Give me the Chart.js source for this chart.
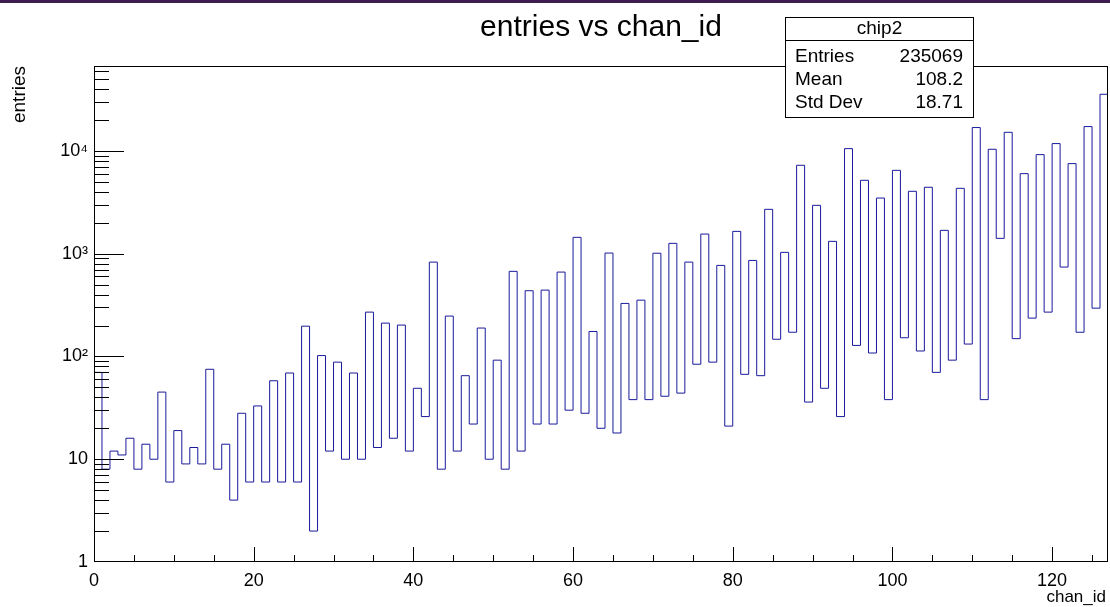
<!DOCTYPE html>
<html lang="en">

<head>
    <meta charset="UTF-8">
    <title>entries vs chan_id</title>
    <script src="https://cdn.jsdelivr.net/npm/chart.js@4.4.0/dist/chart.umd.min.js"></script>
    <style>
        body { margin: 0; background: #fff; }
        canvas { display: block; }
    </style>
</head>

<body>
    <canvas id="canvas" width="1110" height="607"></canvas>
    <script>
        // histogram: chip2, entries per channel (bin width 1, 0..127)
        const chanIds = [];
        for (let i = 0; i <= 127; i++) chanIds.push(i);

        const entries = [
            70, 8, 12, 11, 16, 8, 14, 10, 45, 6,
            19, 9, 13, 9, 75, 8, 14, 4, 28, 6,
            33, 6, 58, 6, 69, 6, 197, 2, 102, 12,
            88, 10, 69, 10, 270, 13, 211, 16, 202, 12,
            49, 26, 828, 8, 247, 12, 65, 22, 189, 10,
            92, 8, 673, 12, 436, 22, 442, 22, 662, 30,
            1442, 28, 175, 20, 1014, 18, 328, 38, 353, 38,
            1010, 41, 1260, 44, 828, 84, 1552, 88, 769, 21,
            1648, 67, 860, 65, 2700, 147, 1030, 172, 7244, 36,
            2953, 49, 1318, 26, 10520, 128, 5174, 108, 3478, 38,
            6470, 152, 4044, 113, 4426, 70, 1686, 92, 4323, 132,
            16870, 38, 10370, 1409, 15170, 149, 6010, 236, 9200, 270,
            11780, 741, 7520, 172, 17250, 295, 35560
        ];

        const xTicks = [0, 20, 40, 60, 80, 100, 120];
        const yTicks = [1, 10, 100, 1000, 10000];
        const yTickLabels = ['1', '10', '10²', '10³', '10⁴'];

        const statsTitle = 'chip2';
        const statsNames = ['Entries', 'Mean', 'Std Dev'];
        const statsValues = ['235069', '108.2', '18.71'];

        // step outline: one point per bin low edge, plus the right edge of the last bin
        let points = entries.map(function (v, i) {
            return { x: chanIds[i], y: v };
        });
        points.push({ x: chanIds[entries.length], y: entries[entries.length - 1] });

        const FONT = 'Liberation Sans, Arial, Helvetica, sans-serif';

        const rootDecor = {
            id: 'rootDecor',
            beforeDraw(chart) {
                const ctx = chart.ctx;
                ctx.save();
                ctx.fillStyle = '#fff';
                ctx.fillRect(0, 0, chart.width, chart.height);
                ctx.fillStyle = '#3d1d4f';
                ctx.fillRect(0, 0, chart.width, 3);
                ctx.restore();
            },
            afterDraw(chart) {
                const ctx = chart.ctx;
                const a = chart.chartArea;
                const xs = chart.scales.x;
                const ys = chart.scales.y;
                ctx.save();
                ctx.strokeStyle = '#000';
                ctx.lineWidth = 1;

                // frame
                ctx.strokeRect(Math.round(a.left) + 0.5, Math.round(a.top) + 0.5,
                    Math.round(a.right - a.left) - 1, Math.round(a.bottom - a.top) - 1);

                // inward ticks, y axis (log)
                ctx.beginPath();
                for (let d = 1; d <= 10000; d *= 10) {
                    for (let m = 1; m <= 9; m++) {
                        const v = m * d;
                        if (v > ys.max) break;
                        if (v === ys.min) continue;
                        const py = Math.round(ys.getPixelForValue(v)) + 0.5;
                        const len = m === 1 ? 30 : 15;
                        ctx.moveTo(a.left, py);
                        ctx.lineTo(a.left + len, py);
                    }
                }
                // inward ticks, x axis
                for (let v = 0; v <= xs.max; v += 5) {
                    const px = Math.round(xs.getPixelForValue(v)) + 0.5;
                    const len = v % 20 === 0 ? 15 : 7;
                    ctx.moveTo(px, a.bottom);
                    ctx.lineTo(px, a.bottom - len);
                }
                ctx.stroke();

                // title
                ctx.fillStyle = '#000';
                ctx.font = '30px ' + FONT;
                ctx.textAlign = 'center';
                ctx.textBaseline = 'alphabetic';
                ctx.fillText('entries vs chan_id', 601, 36);

                // axis titles
                ctx.font = '17px ' + FONT;
                ctx.textAlign = 'right';
                ctx.textBaseline = 'middle';
                ctx.fillText('chan_id', 1106, 597);
                ctx.save();
                ctx.font = '19px ' + FONT;
                ctx.translate(20, a.top);
                ctx.rotate(-Math.PI / 2);
                ctx.fillText('entries', 0, 0);
                ctx.restore();

                // stats box
                const bx = 785.5, by = 17.5, bw = 188, bh = 100;
                ctx.fillStyle = '#fff';
                ctx.fillRect(bx, by, bw, bh);
                ctx.strokeRect(bx, by, bw, bh);
                ctx.beginPath();
                ctx.moveTo(bx, 40.5);
                ctx.lineTo(bx + bw, 40.5);
                ctx.stroke();
                ctx.fillStyle = '#000';
                ctx.font = '19px ' + FONT;
                ctx.textAlign = 'center';
                ctx.fillText(statsTitle, bx + bw / 2, 29);
                for (let i = 0; i < statsNames.length; i++) {
                    const ty = 57 + i * 23;
                    ctx.textAlign = 'left';
                    ctx.fillText(statsNames[i], 795, ty);
                    ctx.textAlign = 'right';
                    ctx.fillText(statsValues[i], 963, ty);
                }
                ctx.restore();
            }
        };

        let ctx = document.getElementById('canvas').getContext('2d');
        let config = {
            type: 'line',
            data: {
                datasets: [{
                    label: statsTitle,
                    data: points,
                    // 'before' = horizontal first, then vertical: histogram steps
                    stepped: 'before',
                    borderColor: '#1a1a9c',
                    borderWidth: 1,
                    pointRadius: 0,
                    fill: false
                }]
            },
            options: {
                responsive: false,
                animation: false,
                devicePixelRatio: 1,
                layout: { padding: { top: 66, right: 2, left: 0, bottom: 0 } },
                plugins: {
                    legend: { display: false },
                    title: { display: false },
                    tooltip: { enabled: false }
                },
                scales: {
                    x: {
                        type: 'linear',
                        min: 0,
                        max: 127,
                        afterBuildTicks: function (scale) {
                            scale.ticks = xTicks.map(v => ({ value: v }));
                        },
                        afterFit: function (scale) { scale.height = 45; },
                        grid: { display: false, drawTicks: false },
                        border: { display: false },
                        ticks: {
                            autoSkip: false,
                            maxRotation: 0,
                            padding: 8,
                            color: '#000',
                            font: { family: FONT, size: 18 }
                        }
                    },
                    y: {
                        type: 'logarithmic',
                        min: 1,
                        max: 67000,
                        afterBuildTicks: function (scale) {
                            scale.ticks = yTicks.map(v => ({ value: v }));
                        },
                        afterFit: function (scale) { scale.width = 94; },
                        grid: { display: false, drawTicks: false },
                        border: { display: false },
                        ticks: {
                            autoSkip: false,
                            padding: 6,
                            color: '#000',
                            font: { family: FONT, size: 18 },
                            callback: function (value) {
                                const i = yTicks.indexOf(value);
                                return i >= 0 ? yTickLabels[i] : '';
                            }
                        }
                    }
                }
            },
            plugins: [rootDecor]
        };

        let chart = new Chart(ctx, config);
    </script>
</body>

</html>
